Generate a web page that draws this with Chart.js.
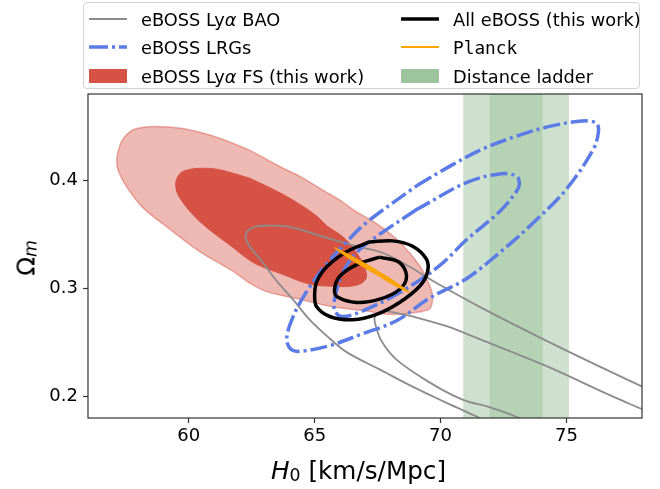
<!DOCTYPE html>
<html>
<head>
<meta charset="utf-8">
<script src="https://cdn.jsdelivr.net/npm/chart.js@4.4.1/dist/chart.umd.min.js"></script>
<style>
  html, body { margin: 0; background: #fff; }
  #wrap { position: relative; width: 660px; height: 489px; font-family: 'DejaVu Sans', sans-serif; color: #000; }
  #wrap canvas { position: absolute; left: 0; top: 0; }
  .legend-box { position: absolute; left: 83px; top: 2px; width: 557px; height: 87px; box-sizing: border-box;
    border: 1px solid #d3d3d3; border-radius: 4px; background: rgba(255,255,255,0.8); }
  .lg-text { position: absolute; font-size: 17.8px; line-height: 20px; white-space: nowrap; }
  .lg-key { position: absolute; width: 38px; height: 16px; }
  .mono { font-family: 'DejaVu Sans Mono', monospace; }
  .xt { position: absolute; left: 271px; top: 456px; font-size: 24.7px; line-height: 30px; white-space: nowrap; }
  .yt { position: absolute; left: 0; top: 0; width: 200px; height: 30px; line-height: 30px; font-size: 24.7px;
    text-align: center; white-space: nowrap; transform: translate(-73.5px, 243px) rotate(-90deg); }
  sub { font-size: 70%; line-height: 0; vertical-align: -2.3px; }
</style>
</head>
<body>
<div id="wrap">
  <canvas id="chart" width="660" height="489"></canvas>

  <div class="legend-box"></div>
  <svg class="lg-key" style="left:89px;top:10.6px"><line x1="0" y1="8" x2="38" y2="8" stroke="#8c8c8c" stroke-width="2"/></svg>
  <div class="lg-text" style="left:141px;top:9.5px">eBOSS Ly<i>α</i> BAO</div>
  <svg class="lg-key" style="left:89px;top:39.1px"><line x1="0" y1="8" x2="38" y2="8" stroke="#5b7be6" stroke-width="3.5" stroke-dasharray="19 4 3 4"/></svg>
  <div class="lg-text" style="left:141px;top:38px">eBOSS LRGs</div>
  <svg class="lg-key" style="left:89px;top:67.7px"><rect x="0" y="1" width="38" height="14" fill="#d65244"/></svg>
  <div class="lg-text" style="left:141px;top:66.5px">eBOSS Ly<i>α</i> FS (this work)</div>

  <svg class="lg-key" style="left:401px;top:10.6px"><line x1="0" y1="8" x2="38" y2="8" stroke="#000" stroke-width="3.5"/></svg>
  <div class="lg-text" style="left:453px;top:9.5px">All eBOSS (this work)</div>
  <svg class="lg-key" style="left:401px;top:39.1px"><line x1="0" y1="8" x2="38" y2="8" stroke="#ffa500" stroke-width="2"/></svg>
  <div class="lg-text mono" style="left:453px;top:38px">Planck</div>
  <svg class="lg-key" style="left:401px;top:67.7px"><rect x="0" y="1" width="38" height="14" fill="#9dc49d"/></svg>
  <div class="lg-text" style="left:453px;top:66.5px">Distance ladder</div>

  <div class="xt"><i>H</i><sub>0</sub> [km/s/Mpc]</div>
  <div class="yt">Ω<sub><i>m</i></sub></div>
</div>

<script>
// axes
const xRange = [56, 78];
const yRange = [0.18, 0.48];
const xTicks = [60, 65, 70, 75];
const yTicks = [0.2, 0.3, 0.4];

// distance ladder bands (H0)
const ladderOuter = [70.9, 75.1];
const ladderInner = [71.95, 74.05];

// contours: [H0, Omega_m]
const fsOuter = [
  [62.42, 0.428], [63.77, 0.411], [64.40, 0.404], [65.32, 0.391], [65.99, 0.382], [66.59, 0.372],
  [67.46, 0.360], [68.37, 0.343], [69.17, 0.321], [69.56, 0.303], [69.68, 0.293], [69.60, 0.282],
  [69.33, 0.279], [68.77, 0.277], [67.98, 0.276], [67.06, 0.279], [65.71, 0.283], [64.40, 0.290],
  [63.10, 0.297], [62.42, 0.305], [61.75, 0.316], [60.44, 0.334], [59.13, 0.357], [58.17, 0.375],
  [57.54, 0.394], [57.22, 0.408], [57.14, 0.418], [57.22, 0.429], [57.38, 0.438], [57.66, 0.445],
  [57.94, 0.448], [58.57, 0.450], [59.76, 0.448], [61.11, 0.440]
];
const fsInner = [
  [62.42, 0.402], [63.10, 0.3946], [63.73, 0.3872], [64.40, 0.378], [65.08, 0.367], [65.48, 0.358],
  [66.11, 0.348], [66.47, 0.339], [66.90, 0.324], [67.06, 0.311], [66.87, 0.305], [66.39, 0.302],
  [65.71, 0.302], [64.80, 0.304], [63.73, 0.313], [62.82, 0.321], [62.42, 0.326], [61.75, 0.338],
  [60.44, 0.362], [59.64, 0.384], [59.48, 0.3965], [59.64, 0.406], [59.92, 0.4095], [60.44, 0.4112],
  [61.11, 0.4104], [61.75, 0.4067]
];
const baoOuter = [
  [72.34, 0.171], [71.55, 0.180], [70.24, 0.194], [68.89, 0.209], [67.58, 0.225], [66.27, 0.241],
  [65.48, 0.256], [64.80, 0.271], [64.13, 0.290], [63.49, 0.307], [62.94, 0.324], [62.42, 0.339],
  [62.26, 0.347], [62.34, 0.353], [62.62, 0.357], [63.02, 0.358], [64.01, 0.357], [65.32, 0.348],
  [66.67, 0.339], [67.70, 0.333], [68.77, 0.320], [69.84, 0.305], [71.63, 0.282], [74.25, 0.251],
  [76.83, 0.222], [78.02, 0.209], [79.09, 0.198]
];
const baoInner = [
  [74.13, 0.169], [73.13, 0.180], [71.94, 0.190], [70.87, 0.197], [69.56, 0.213], [68.25, 0.234],
  [67.66, 0.251], [67.42, 0.266], [67.38, 0.273], [67.50, 0.277], [67.78, 0.279], [68.29, 0.277],
  [68.89, 0.274], [70.24, 0.265], [71.55, 0.253], [74.21, 0.228], [76.83, 0.200], [78.02, 0.188],
  [79.09, 0.177]
];
const lrgOuter = [
  [69.05, 0.395], [70.36, 0.413], [71.67, 0.429], [73.02, 0.441], [74.33, 0.450], [75.63, 0.455],
  [76.19, 0.453], [76.27, 0.445], [76.07, 0.429], [75.00, 0.392], [73.65, 0.360], [72.34, 0.333],
  [71.03, 0.309], [69.56, 0.291], [68.25, 0.270], [66.90, 0.258], [65.60, 0.247], [64.52, 0.242],
  [64.09, 0.243], [63.89, 0.253], [64.13, 0.273], [64.60, 0.294], [65.32, 0.318], [66.27, 0.343],
  [67.06, 0.361]
];
const lrgInner = [
  [69.05, 0.373], [67.70, 0.352], [66.79, 0.336], [66.19, 0.318], [65.83, 0.294], [65.79, 0.280],
  [66.07, 0.274], [66.79, 0.278], [68.37, 0.296], [69.96, 0.321], [71.03, 0.345], [72.34, 0.371],
  [73.02, 0.390], [73.13, 0.397], [73.02, 0.404], [72.34, 0.406], [71.03, 0.398]
];
const allOuter = [
  [67.18, 0.343], [68.10, 0.344], [68.89, 0.339], [69.44, 0.327], [69.48, 0.315], [69.17, 0.302],
  [68.37, 0.287], [67.46, 0.276], [66.51, 0.271], [65.60, 0.274], [65.08, 0.283], [65.00, 0.293],
  [65.08, 0.306], [65.48, 0.320], [66.27, 0.334]
];
const allInner = [
  [67.58, 0.329], [68.37, 0.324], [68.65, 0.311], [68.37, 0.299], [67.58, 0.290], [66.67, 0.287],
  [65.91, 0.292], [65.79, 0.299], [65.99, 0.311], [66.67, 0.322]
];
const planck = [
  [67.36, 0.3183], [68.21, 0.3059], [68.77, 0.2963], [68.14, 0.3032], [67.25, 0.3156], [66.35, 0.3279],
  [65.79, 0.3376], [66.42, 0.3306]
];

const pts = a => a.map(([x, y]) => ({ x, y }));
const loop = a => pts(a.concat([a[0]]));
const band = ([lo, hi]) => pts([[lo, yRange[0]], [lo, yRange[1]], [hi, yRange[1]], [hi, yRange[0]], [lo, yRange[0]]]);

const tickFont = { family: 'DejaVu Sans', size: 18 };
const LRG_BLUE = '#5b7be6';
const LRG_DASH = [17, 4, 3, 4];

const frame = {
  id: 'frame',
  afterDatasetsDraw(chart) {
    const { ctx, chartArea: a } = chart;
    ctx.save();
    ctx.strokeStyle = '#333';
    ctx.lineWidth = 1.2;
    ctx.strokeRect(a.left, a.top, a.right - a.left, a.bottom - a.top);
    ctx.restore();
  }
};

new Chart(document.getElementById('chart'), {
  type: 'line',
  data: {
    datasets: [
      { data: loop(planck), fill: 'shape', backgroundColor: '#ffa500', borderColor: '#f7a000', borderWidth: 1, tension: 0.3, order: 0 },
      { data: loop(allInner), borderColor: '#000', borderWidth: 3.5, order: 1 },
      { data: loop(allOuter), borderColor: '#000', borderWidth: 3.5, order: 1 },
      { data: loop(lrgInner), borderColor: LRG_BLUE, borderWidth: 3.5, borderDash: LRG_DASH, order: 2 },
      { data: loop(lrgOuter), borderColor: LRG_BLUE, borderWidth: 3.5, borderDash: LRG_DASH, order: 2 },
      { data: pts(baoInner), borderColor: '#8c8c8c', borderWidth: 1.8, clip: 0, order: 3 },
      { data: pts(baoOuter), borderColor: '#8c8c8c', borderWidth: 1.8, clip: 0, order: 3 },
      { data: loop(fsInner), fill: 'shape', backgroundColor: '#d65244', borderColor: '#d65244', borderWidth: 1, order: 4 },
      { data: loop(fsOuter), fill: 'shape', backgroundColor: '#eeb9b3', borderColor: 'rgba(214,82,68,0.45)', borderWidth: 1.5, order: 5 },
      { data: band(ladderInner), fill: 'shape', backgroundColor: 'rgba(157,196,157,0.5)', borderColor: 'rgba(0,0,0,0)', borderWidth: 1, tension: 0, clip: 0, order: 6 },
      { data: band(ladderOuter), fill: 'shape', backgroundColor: 'rgba(157,196,157,0.5)', borderColor: 'rgba(0,0,0,0)', borderWidth: 1, tension: 0, clip: 0, order: 7 }
    ]
  },
  options: {
    responsive: false,
    devicePixelRatio: 1,
    animation: false,
    events: [],
    layout: { padding: { top: 94, right: 18, bottom: 0, left: 0 } },
    elements: {
      point: { radius: 0, hitRadius: 0 },
      line: { tension: 0.35 }
    },
    plugins: { legend: { display: false }, tooltip: { enabled: false } },
    scales: {
      x: {
        type: 'linear', min: xRange[0], max: xRange[1],
        afterBuildTicks: s => { s.ticks = xTicks.map(value => ({ value })); },
        afterFit: s => { s.height = 71; },
        border: { display: false },
        grid: { drawOnChartArea: false, drawTicks: true, tickLength: 5, color: '#333', tickWidth: 1.2 },
        ticks: { font: tickFont, color: '#000', padding: 3, maxRotation: 0, autoSkip: false }
      },
      y: {
        type: 'linear', min: yRange[0], max: yRange[1],
        afterBuildTicks: s => { s.ticks = yTicks.map(value => ({ value })); },
        afterFit: s => { s.width = 88; },
        border: { display: false },
        grid: { drawOnChartArea: false, drawTicks: true, tickLength: 5, color: '#333', tickWidth: 1.2 },
        ticks: { font: tickFont, color: '#000', padding: 5, autoSkip: false, callback: v => v.toFixed(1) }
      }
    }
  },
  plugins: [frame]
});
</script>
</body>
</html>
